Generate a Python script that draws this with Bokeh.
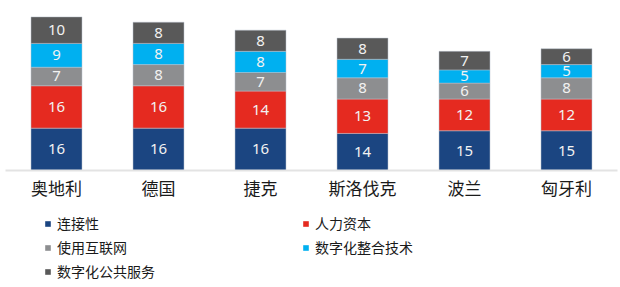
from bokeh.plotting import figure
from bokeh.models import ColumnDataSource, Range1d, Legend, LegendItem
from bokeh.layouts import column
from bokeh.embed import file_html
from bokeh.resources import INLINE
from bokeh.core.properties import value

countries = ["奥地利", "德国", "捷克", "斯洛伐克", "波兰", "匈牙利"]
series = ["连接性", "人力资本", "使用互联网", "数字化整合技术", "数字化公共服务"]
connectivity = [16, 16, 16, 14, 15, 15]
human_capital = [16, 16, 14, 13, 12, 12]
internet_use = [7, 8, 7, 8, 6, 8]
integration = [9, 8, 8, 7, 5, 5]
public_services = [10, 8, 8, 8, 7, 6]
colors = ["#1B4581", "#E52A20", "#8D8E90", "#00B0F0", "#595959"]

values = [connectivity, human_capital, internet_use, integration, public_services]
keys = ["s0", "s1", "s2", "s3", "s4"]

data = {"country": countries}
for k, v in zip(keys, values):
    data[k] = v
source = ColumnDataSource(data)

FONT = "Noto Sans CJK SC"

p = figure(x_range=countries, y_range=Range1d(0, 64.2), width=620, height=205,
           output_backend="svg", toolbar_location=None,
           min_border_left=5, min_border_right=3, min_border_top=0, min_border_bottom=35)
p.outline_line_color = None
p.background_fill_color = "white"
p.border_fill_color = "white"
p.xgrid.grid_line_color = None
p.ygrid.grid_line_color = None
p.yaxis.visible = False
p.x_range.range_padding = 0.0

renderers = p.vbar_stack(keys, x="country", width=0.5, color=colors, source=source,
                         line_color="#B8C0CC", line_width=0.5)

# labels at segment centers
lx, ly, lt = [], [], []
for i, c in enumerate(countries):
    base = 0
    for v in values:
        lx.append(c)
        ly.append(base + v[i] / 2)
        lt.append(str(v[i]))
        base += v[i]
lsrc = ColumnDataSource(dict(x=lx, y=ly, t=lt))
p.text(x="x", y="y", text="t", source=lsrc, text_align="center", text_baseline="middle",
       text_color="#F2F2F2", text_font_size="15px", text_font=value("Noto Sans"))

ax = p.xaxis[0]
ax.axis_line_color = "#E3E3E3"
ax.axis_line_width = 2
ax.major_tick_line_color = None
ax.minor_tick_line_color = None
ax.major_label_text_font = FONT
ax.major_label_text_font_size = "17px"
ax.major_label_text_color = "#1a1a1a"
ax.major_label_standoff = -2

# legend figure below the chart
q = figure(width=620, height=82, x_range=Range1d(0, 1), y_range=Range1d(0, 1),
           output_backend="svg", toolbar_location=None,
           min_border_left=0, min_border_right=0, min_border_top=0, min_border_bottom=0)
q.outline_line_color = None
q.xaxis.visible = False
q.yaxis.visible = False
q.xgrid.grid_line_color = None
q.ygrid.grid_line_color = None
# zero-size proxy glyphs that only feed the legend swatches
hidden = ColumnDataSource(dict(x=[0.5], top=[0.0]))
legend_renderers = [q.vbar(x="x", top="top", bottom=0.0, width=0.0, fill_color=c,
                           line_color=c, line_alpha=0.0, source=hidden) for c in colors]

# column-first filling: col 1 gets items 0,2,4; col 2 gets items 1,3
order = [0, 2, 4, 1, 3]
items = [LegendItem(label=series[i], renderers=[legend_renderers[i]]) for i in order]
legend = Legend(items=items, ncols=2, location=(39, 4),
                label_text_font=FONT, label_text_font_size="14px", label_text_color="#1a1a1a",
                glyph_width=7, glyph_height=7, label_standoff=6, label_width=245,
                spacing=0, padding=0, margin=0, border_line_color=None,
                label_height=24, background_fill_alpha=0)
q.add_layout(legend, "center")

layout = column(p, q, spacing=0)
open("out.html", "w").write(file_html(layout, INLINE))
